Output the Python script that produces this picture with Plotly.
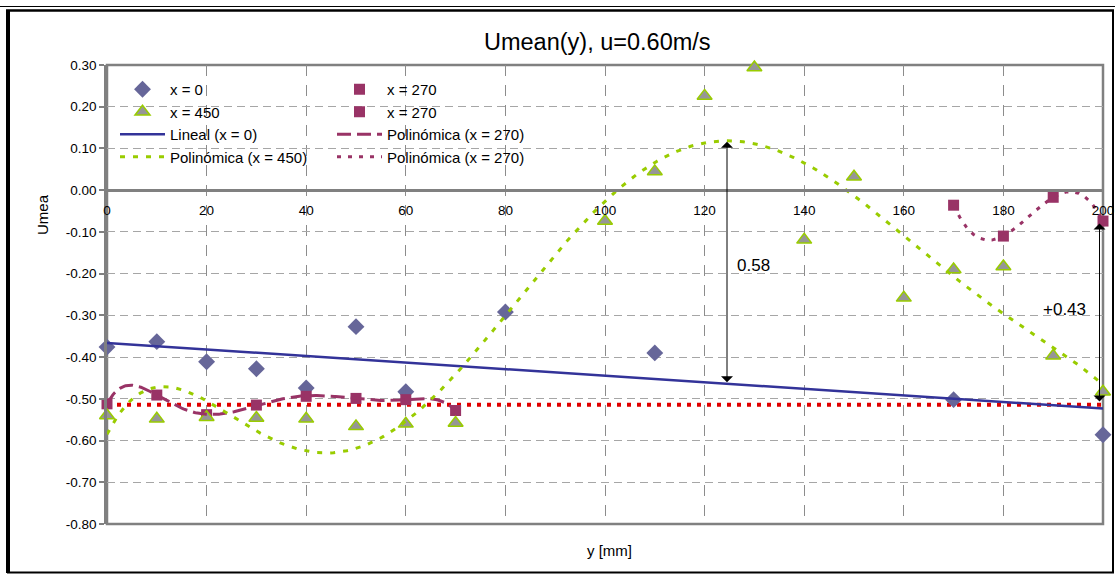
import numpy as np
import plotly.graph_objects as go

# ---- measured data: Umean vs y [mm] ----
y_x0 = [0, 10, 20, 30, 40, 50, 60, 80, 110, 170, 200]
u_x0 = [-0.376, -0.363, -0.411, -0.428, -0.474, -0.327, -0.483, -0.292, -0.390, -0.502, -0.586]

y_x450 = [0, 10, 20, 30, 40, 50, 60, 70, 100, 110, 120, 130, 140, 150, 160, 170, 180, 190, 200]
u_x450 = [-0.540, -0.548, -0.544, -0.546, -0.548, -0.566, -0.560, -0.558,
          -0.074, 0.045, 0.226, 0.294, -0.119, 0.032, -0.258, -0.190, -0.183, -0.397, -0.483]

y_x270a = [0, 10, 20, 30, 40, 50, 60, 70]
u_x270a = [-0.512, -0.491, -0.538, -0.515, -0.494, -0.499, -0.502, -0.528]

y_x270b = [170, 180, 190, 200]
u_x270b = [-0.036, -0.110, -0.017, -0.074]

# reference level drawn as a red dotted line
ref_y = [0, 200]
ref_u = [-0.514, -0.514]

# difference markers
diff_peak = 0.58
diff_end = 0.43

x_ticks = list(range(0, 201, 20))
y_ticks = [0.30, 0.20, 0.10, 0.00, -0.10, -0.20, -0.30, -0.40, -0.50, -0.60, -0.70, -0.80]

FONT = "Liberation Sans, Arial, sans-serif"


def trend(xs, us, deg, n=300):
    coef = np.polyfit(xs, us, deg)
    xx = np.linspace(min(xs), max(xs), n)
    return xx, np.polyval(coef, xx), coef


lin_x, lin_u, lin_c = trend(y_x0, u_x0, 1)
p450_x, p450_u, p450_c = trend(y_x450, u_x450, 6)
p270a_x, p270a_u, _ = trend(y_x270a, u_x270a, 6)
p270b_x, p270b_u, _ = trend(y_x270b, u_x270b, 3)

C_DIAM = "#666699"
C_SQ = "#993366"
C_TRI_FILL = "#969696"
C_TRI_LINE = "#99CC00"
C_LIN = "#333399"
C_RED = "#E00000"

fig = go.Figure()

fig.add_trace(go.Scatter(x=ref_y, y=ref_u, mode="lines", showlegend=False, hoverinfo="skip",
                         line=dict(color=C_RED, width=4, dash="4px,6px")))

fig.add_trace(go.Scatter(x=y_x0, y=u_x0, mode="markers", name="x = 0", legend="legend",
                         marker=dict(symbol="diamond", size=13, color=C_DIAM), cliponaxis=False))
fig.add_trace(go.Scatter(x=y_x270a, y=u_x270a, mode="markers", name="x = 270", legend="legend2",
                         marker=dict(symbol="square", size=11, color=C_SQ), cliponaxis=False))
fig.add_trace(go.Scatter(x=y_x450, y=u_x450, mode="markers", name="x = 450", legend="legend",
                         marker=dict(symbol="triangle-up", size=13, color=C_TRI_FILL,
                                     line=dict(color=C_TRI_LINE, width=1.5)), cliponaxis=False))
fig.add_trace(go.Scatter(x=y_x270b, y=u_x270b, mode="markers", name="x = 270", legend="legend2",
                         marker=dict(symbol="square", size=11, color=C_SQ), cliponaxis=False))

fig.add_trace(go.Scatter(x=lin_x, y=lin_u, mode="lines", name="Lineal (x = 0)", legend="legend",
                         line=dict(color=C_LIN, width=2.5)))
fig.add_trace(go.Scatter(x=p270a_x, y=p270a_u, mode="lines", name="Polinómica (x = 270)", legend="legend2",
                         line=dict(color=C_SQ, width=3, dash="14px,6px")))
fig.add_trace(go.Scatter(x=p450_x, y=p450_u, mode="lines", name="Polinómica (x = 450)", legend="legend",
                         line=dict(color=C_TRI_LINE, width=3, dash="5px,8px")))
fig.add_trace(go.Scatter(x=p270b_x, y=p270b_u, mode="lines", name="Polinómica (x = 270)", legend="legend2",
                         line=dict(color=C_SQ, width=3, dash="4px,7px")))

# plot area geometry (pixels)
W, H = 1115, 574
L, R, T, B = 107, 12, 65, 50
pw, ph = W - L - R, H - T - B


def px(xp):
    return (xp - L) / pw


def py(yp):
    return (H - B - yp) / ph


ymin, ymax = -0.8, 0.3
zero_pos = (0 - ymin) / (ymax - ymin)

shapes = [
    # plot area frame
    dict(type="rect", xref="paper", yref="paper", x0=0, y0=0, x1=1, y1=1,
         line=dict(color="#808080", width=2.5), layer="between"),
    # outer chart border
    dict(type="line", xref="paper", yref="paper", x0=px(0), x1=px(W), y0=py(6.5), y1=py(6.5),
         line=dict(color="black", width=1.2)),
    dict(type="line", xref="paper", yref="paper", x0=px(6), x1=px(1114), y0=py(10.5), y1=py(10.5),
         line=dict(color="black", width=2.5)),
    dict(type="line", xref="paper", yref="paper", x0=px(8), x1=px(8), y0=py(10), y1=py(573),
         line=dict(color="black", width=4)),
    dict(type="line", xref="paper", yref="paper", x0=px(1113), x1=px(1113), y0=py(10), y1=py(573),
         line=dict(color="black", width=2)),
    dict(type="line", xref="paper", yref="paper", x0=px(7), x1=px(1114), y0=py(572.5), y1=py(572.5),
         line=dict(color="black", width=2)),
]

# difference arrows
a1_x = 124.5
a1_base = float(np.polyval(lin_c, a1_x))
a1_top = a1_base + diff_peak
a2_x = 199.3
a2_base = ref_u[0] + 0.004
a2_top = a2_base + diff_end


def label(text, x, y, size, **kw):
    return dict(text=text, xref="paper", yref="paper", x=px(x), y=py(y),
                xanchor="center", yanchor="middle", showarrow=False,
                font=dict(family=FONT, size=size, color="black"), **kw)


annotations = [
    label("Umean(y), u=0.60m/s", 597, 42, 23.5),
    label("(a)", 561, -8, 16),
    label("Umea", 43, 215, 15, textangle=-90),
    label("y [mm]", 609, 550, 15),
    dict(x=a1_x, y=a1_top, ax=a1_x, ay=a1_base, xref="x", yref="y", axref="x", ayref="y",
         showarrow=True, arrowhead=1, startarrowhead=1, arrowside="end+start", arrowsize=2,
         startarrowsize=2, arrowwidth=1, arrowcolor="black", standoff=0, startstandoff=0, text=""),
    dict(x=a2_x, y=a2_top, ax=a2_x, ay=a2_base, xref="x", yref="y", axref="x", ayref="y",
         showarrow=True, arrowhead=1, startarrowhead=1, arrowside="end+start", arrowsize=2,
         startarrowsize=2, arrowwidth=1, arrowcolor="black", standoff=0, startstandoff=0, text=""),
    dict(text=f"{diff_peak:.2f}", x=129.8, y=-0.18, xref="x", yref="y", showarrow=False,
         xanchor="center", yanchor="middle", font=dict(family=FONT, size=17, color="black")),
    dict(text=f"+{diff_end:.2f}", x=192.3, y=-0.285, xref="x", yref="y", showarrow=False,
         xanchor="center", yanchor="middle", font=dict(family=FONT, size=17, color="black")),
]

fig.update_layout(
    width=W, height=H,
    margin=dict(l=L, r=R, t=T, b=B, pad=0, autoexpand=False),
    paper_bgcolor="white", plot_bgcolor="white",
    font=dict(family=FONT, size=14, color="black"),
    shapes=shapes, annotations=annotations,
    legend=dict(x=px(115), y=py(73), xanchor="left", yanchor="top", bgcolor="rgba(0,0,0,0)",
                font=dict(family=FONT, size=15), itemwidth=45, tracegroupgap=0),
    legend2=dict(x=px(332), y=py(73), xanchor="left", yanchor="top", bgcolor="rgba(0,0,0,0)",
                 font=dict(family=FONT, size=15), itemwidth=45, tracegroupgap=0),
)

fig.update_xaxes(range=[0, 200], anchor="free", position=zero_pos, side="bottom",
                 automargin=False,
                 tickvals=x_ticks, ticktext=[str(v) for v in x_ticks], ticks="",
                 ticklabelstandoff=7,
                 showline=True, linecolor="#808080", linewidth=2.5,
                 showgrid=True, gridcolor="#8C8C8C", gridwidth=1.2, griddash="11px,9px",
                 zeroline=False, tickfont=dict(family=FONT, size=13.5, color="black"))
fig.update_yaxes(range=[ymin, ymax], tickvals=y_ticks, ticktext=[f"{v:.2f}" for v in y_ticks],
                 automargin=False,
                 ticks="outside", ticklen=5, tickcolor="#808080", tickwidth=1.5,
                 showline=True, linecolor="#808080", linewidth=2.5,
                 showgrid=True, gridcolor="#A6A6A6", gridwidth=1.2, griddash="8px,5px",
                 zeroline=False, tickfont=dict(family=FONT, size=13.5, color="black"))

fig.write_html("out.html")
